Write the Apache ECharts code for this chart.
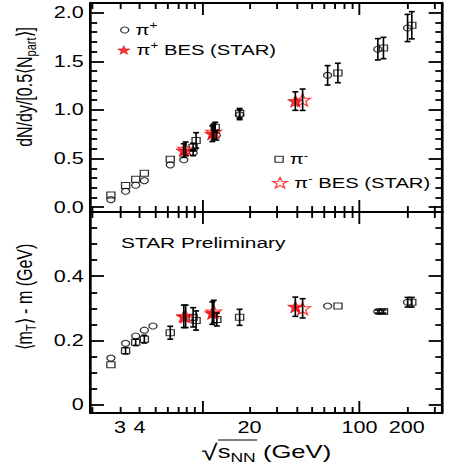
<!DOCTYPE html>
<html>
<head>
<meta charset="utf-8">
<script src="https://cdn.jsdelivr.net/npm/echarts@6/dist/echarts.min.js"></script>
<style>
  html, body { margin: 0; padding: 0; background: #fff; overflow: hidden; }
  /* the figure is laid out narrow and widened horizontally */
  #chart { width: 333px; height: 465px; transform: scaleX(1.3483); transform-origin: 0 0; }
</style>
</head>
<body>
<div id="chart"></div>
<script>
// ---- dN/dy / (0.5 <Npart>) vs sqrt(sNN) [GeV] ----
const dndyPipE   = [2.63, 3.26, 3.78, 4.29, 6.27, 7.64, 8.76, 12.3, 17.3, 62.7, 130.8, 202];
const dndyPipV   = [0.077, 0.163, 0.225, 0.273, 0.435, 0.487, 0.56, 0.74, 0.95, 1.356, 1.624, 1.843];
const dndyPipErr = [0, 0, 0, 0, 0, 0, 0.03, 0.05, 0.05, 0.10, 0.11, 0.14];

const dndyPimE   = [2.63, 3.26, 3.78, 4.29, 6.27, 8.76, 9.15, 12.1, 17.3, 72.9, 142, 215];
const dndyPimV   = [0.126, 0.222, 0.287, 0.349, 0.493, 0.617, 0.686, 0.823, 0.965, 1.38, 1.637, 1.871];
const dndyPimErr = [0, 0, 0, 0, 0, 0.04, 0.08, 0.05, 0.05, 0.10, 0.11, 0.14];

const dndyBesPipE   = [7.64, 11.6, 39.1];
const dndyBesPipV   = [0.582, 0.755, 1.091];
const dndyBesPipErr = [0.07, 0.08, 0.095];

const dndyBesPimE   = [7.85, 11.85, 43.5];
const dndyBesPimV   = [0.60, 0.775, 1.105];
const dndyBesPimErr = [0.07, 0.08, 0.11];

// ---- <mT> - m [GeV] vs sqrt(sNN) [GeV] ----
const mtPipE   = [2.63, 3.26, 3.78, 4.29, 4.87, 62.7, 130.8, 202];
const mtPipV   = [0.145, 0.191, 0.214, 0.232, 0.245, 0.307, 0.290, 0.319];
const mtPipErr = [0, 0, 0, 0, 0, 0, 0.005, 0.015];

const mtPimE   = [2.63, 3.26, 3.78, 4.29, 6.27, 8.76, 9.15, 12.4, 17.3, 73, 142, 215];
const mtPimV   = [0.124, 0.168, 0.194, 0.204, 0.224, 0.272, 0.262, 0.265, 0.272, 0.307, 0.290, 0.319];
const mtPimErr = [0, 0.01, 0.01, 0.012, 0.02, 0.03, 0.03, 0.02, 0.025, 0, 0.005, 0.015];

const mtBesPipE   = [7.64, 11.6, 39.1];
const mtBesPipV   = [0.275, 0.285, 0.305];
const mtBesPipErr = [0.035, 0.035, 0.03];

const mtBesPimE   = [7.85, 11.85, 43.5];
const mtBesPimV   = [0.275, 0.29, 0.30];
const mtBesPimErr = [0.035, 0.035, 0.03];

// ---- axes ----
const xRange = [1.95, 335];
const xLabelValues = [3, 4, 20, 100, 200];
const xMajorTicks = [10, 100];
const xMinorTicks = [2, 3, 4, 5, 6, 7, 8, 9, 20, 30, 40, 50, 60, 70, 80, 90, 200, 300];

const dndyRange = [-0.05, 2.1];
const dndyLabels = [0, 0.5, 1, 1.5, 2];
const dndyMinorTicks = [0.1, 0.2, 0.3, 0.4, 0.6, 0.7, 0.8, 0.9, 1.1, 1.2, 1.3, 1.4, 1.6, 1.7, 1.8, 1.9];

const mtRange = [-0.026, 0.6];
const mtLabels = [0, 0.2, 0.4];
const mtMinorTicks = [0.05, 0.1, 0.15, 0.25, 0.3, 0.35, 0.45, 0.5, 0.55];

const names = { pip: 'π+', pim: 'π-', besPip: 'π+ BES (STAR)', besPim: 'π- BES (STAR)' };

const FONT = '"Liberation Sans", Arial, Helvetica, sans-serif';
const STAR = 'path://M0,-10L2.35,-3.24L9.51,-3.09L3.8,1.24L5.88,8.09L0,4L-5.88,8.09L-3.8,1.24L-9.51,-3.09L-2.35,-3.24Z';
const BLACK = '#000';
const lg = Math.log10;

const lineStyle = { color: BLACK, width: 2 };
const tickStyleX = { color: BLACK, width: 1.4 };
const tickStyleY = { color: BLACK, width: 1.8 };

function xAxesFor(grid, withLabels) {
  const base = {
    gridIndex: grid, type: 'value', min: lg(xRange[0]), max: lg(xRange[1]),
    splitLine: { show: false }, axisLabel: { show: false },
    axisLine: { show: false, onZero: false }, axisTick: { show: false }
  };
  const major = { show: true, inside: true, length: 12, customValues: xMajorTicks.map(lg), lineStyle: tickStyleX };
  const minor = { show: true, inside: true, length: 6, customValues: xMinorTicks.map(lg), lineStyle: tickStyleX };
  return [
    // data axis (logarithmic), not drawn
    { gridIndex: grid, type: 'log', logBase: 10, min: xRange[0], max: xRange[1], show: false,
      axisLine: { onZero: false }, splitLine: { show: false } },
    Object.assign({}, base, {
      position: 'bottom',
      axisLine: { show: true, onZero: false, lineStyle },
      axisTick: major,
      axisLabel: withLabels ? {
        show: true, customValues: xLabelValues.map(lg),
        formatter: v => String(Math.round(Math.pow(10, v))),
        margin: 7, color: BLACK, fontSize: 16, fontFamily: FONT
      } : { show: false },
      name: withLabels ? '{r|√}{t|s}{s|NN}{t| (GeV)}' : '',
      nameLocation: 'middle', nameGap: 27,
      nameTextStyle: {
        color: BLACK, fontFamily: FONT,
        rich: {
          r: { fontSize: 22, fontFamily: FONT, lineHeight: 24, color: BLACK },
          t: { fontSize: 19, fontFamily: FONT, lineHeight: 24, color: BLACK },
          s: { fontSize: 13, fontFamily: FONT, lineHeight: 9, verticalAlign: 'bottom', color: BLACK }
        }
      }
    }),
    Object.assign({}, base, { position: 'bottom', axisTick: minor }),
    Object.assign({}, base, { position: 'top', axisLine: { show: true, onZero: false, lineStyle }, axisTick: major }),
    Object.assign({}, base, { position: 'top', axisTick: minor })
  ];
}

function yAxesFor(grid, range, labels, minors, fmt) {
  const base = {
    gridIndex: grid, type: 'value', min: range[0], max: range[1],
    splitLine: { show: false }, axisLabel: { show: false },
    axisLine: { show: false, onZero: false }, axisTick: { show: false }
  };
  const major = { show: true, inside: true, length: 10, customValues: labels, lineStyle: tickStyleY };
  const minor = { show: true, inside: true, length: 5, customValues: minors, lineStyle: tickStyleY };
  return [
    Object.assign({}, base, {
      position: 'left',
      axisLine: { show: true, onZero: false, lineStyle },
      axisTick: major,
      axisLabel: { show: true, customValues: labels, formatter: fmt, margin: 5, color: BLACK, fontSize: 16, fontFamily: FONT }
    }),
    Object.assign({}, base, { position: 'left', axisTick: minor }),
    Object.assign({}, base, { position: 'right', axisLine: { show: true, onZero: false, lineStyle }, axisTick: major }),
    Object.assign({}, base, { position: 'right', axisTick: minor })
  ];
}

const markerStyles = {
  pip:    { symbol: 'circle', symbolSize: 6, itemStyle: { color: 'rgba(255,255,255,0)', borderColor: BLACK, borderWidth: 1 } },
  pim:    { symbol: 'rect', symbolSize: 6, itemStyle: { color: 'rgba(255,255,255,0)', borderColor: BLACK, borderWidth: 1 } },
  besPip: { symbol: STAR, symbolSize: [11.5, 12.5], itemStyle: { color: '#ff0000', borderColor: '#c00000', borderWidth: 0.6 } },
  besPim: { symbol: STAR, symbolSize: [11.5, 12.5], itemStyle: { color: 'rgba(255,255,255,0)', borderColor: '#ff0000', borderWidth: 1 } }
};

function scatter(key, E, V, xIdx, yIdx, z) {
  return Object.assign({
    type: 'scatter', name: names[key], xAxisIndex: xIdx, yAxisIndex: yIdx, z,
    silent: true, animation: false,
    data: E.map((e, i) => [e, V[i]])
  }, markerStyles[key]);
}

function errorBars(E, V, Err, xIdx, yIdx) {
  return {
    type: 'custom', xAxisIndex: xIdx, yAxisIndex: yIdx, z: 10, silent: true, animation: false,
    data: E.map((e, i) => [e, V[i], Err[i]]).filter(d => d[2] > 0),
    encode: { x: 0, y: 1 },
    renderItem(params, api) {
      const x = api.value(0), y = api.value(1), err = api.value(2);
      const lo = api.coord([x, y - err]);
      const hi = api.coord([x, y + err]);
      const cap = 2.2;
      const st = { stroke: BLACK, lineWidth: 1.2 };
      return {
        type: 'group',
        children: [
          { type: 'line', shape: { x1: lo[0], y1: lo[1], x2: hi[0], y2: hi[1] }, style: st },
          { type: 'line', shape: { x1: lo[0] - cap, y1: lo[1], x2: lo[0] + cap, y2: lo[1] }, style: { stroke: BLACK, lineWidth: 1.6 } },
          { type: 'line', shape: { x1: hi[0] - cap, y1: hi[1], x2: hi[0] + cap, y2: hi[1] }, style: { stroke: BLACK, lineWidth: 1.6 } }
        ]
      };
    }
  };
}

const richLegend = {
  p: { fontSize: 15, fontFamily: FONT, lineHeight: 18, color: BLACK },
  s: { fontSize: 10, fontFamily: FONT, lineHeight: 8, verticalAlign: 'top', color: BLACK }
};
function legendText(name) {
  const sign = name.charAt(1);
  const rest = name.slice(2);
  return '{p|π}{s|' + sign + '}' + (rest ? '{p|' + rest + '}' : '');
}
function legendFor(key, icon, w, h, left, top) {
  const st = markerStyles[key].itemStyle;
  return {
    data: [{ name: names[key], icon, itemStyle: { color: st.color, borderColor: st.borderColor, borderWidth: st.borderWidth } }],
    left, top, padding: 0, itemWidth: w, itemHeight: h, selectedMode: false,
    formatter: legendText,
    textStyle: { color: BLACK, fontFamily: FONT, fontSize: 15, rich: richLegend }
  };
}

const titleRich = {
  t: { fontSize: 16, fontFamily: FONT, lineHeight: 20, color: BLACK },
  s: { fontSize: 11, fontFamily: FONT, lineHeight: 8, verticalAlign: 'bottom', color: BLACK }
};

const option = {
  animation: false,
  backgroundColor: '#fff',
  grid: [
    { left: 67.1, right: 5.1, top: 3, height: 209 },
    { left: 67.1, right: 5.1, top: 212, height: 205 }
  ],
  xAxis: [].concat(xAxesFor(0, false), xAxesFor(1, true)),
  yAxis: [].concat(
    yAxesFor(0, dndyRange, dndyLabels, dndyMinorTicks, v => v.toFixed(1)),
    yAxesFor(1, mtRange, mtLabels, mtMinorTicks, v => (v === 0 ? '0' : v.toFixed(1)))
  ),
  legend: [
    legendFor('pip', 'circle', 6, 6, 89, 21),
    legendFor('besPip', STAR, 9, 10, 87, 41),
    legendFor('pim', 'rect', 6, 6, 203.5, 150.3),
    legendFor('besPim', STAR, 11, 12, 201.7, 173.7)
  ],
  series: [
    scatter('pip', dndyPipE, dndyPipV, 0, 0, 3),
    scatter('pim', dndyPimE, dndyPimV, 0, 0, 3),
    scatter('besPip', dndyBesPipE, dndyBesPipV, 0, 0, 4),
    scatter('besPim', dndyBesPimE, dndyBesPimV, 0, 0, 5),
    errorBars(dndyPipE, dndyPipV, dndyPipErr, 0, 0),
    errorBars(dndyPimE, dndyPimV, dndyPimErr, 0, 0),
    errorBars(dndyBesPipE, dndyBesPipV, dndyBesPipErr, 0, 0),
    errorBars(dndyBesPimE, dndyBesPimV, dndyBesPimErr, 0, 0),

    scatter('pip', mtPipE, mtPipV, 5, 4, 3),
    scatter('pim', mtPimE, mtPimV, 5, 4, 3),
    scatter('besPip', mtBesPipE, mtBesPipV, 5, 4, 4),
    scatter('besPim', mtBesPimE, mtBesPimV, 5, 4, 5),
    errorBars(mtPipE, mtPipV, mtPipErr, 5, 4),
    errorBars(mtPimE, mtPimV, mtPimErr, 5, 4),
    errorBars(mtBesPipE, mtBesPipV, mtBesPipErr, 5, 4),
    errorBars(mtBesPimE, mtBesPimV, mtBesPimErr, 5, 4)
  ],
  graphic: [
    { type: 'text', x: 18.5, y: 87, rotation: Math.PI / 2, silent: true,
      style: { text: '{t|dN/dy/[0.5⟨N}{s|part}{t|⟩]}', rich: titleRich, align: 'center', verticalAlign: 'middle', fill: BLACK } },
    { type: 'text', x: 18.5, y: 297, rotation: Math.PI / 2, silent: true,
      style: { text: '{t|⟨m}{s|T}{t|⟩ - m (GeV)}', rich: titleRich, align: 'center', verticalAlign: 'middle', fill: BLACK } },
    { type: 'text', x: 89.8, y: 243, silent: true,
      style: { text: 'STAR Preliminary', font: '15.5px ' + FONT, fill: BLACK, verticalAlign: 'middle' } },
    // overline of the square root in the energy axis title
    { type: 'line', silent: true, shape: { x1: 161.7, y1: 440, x2: 190.7, y2: 440 }, style: { stroke: BLACK, lineWidth: 1.2 } }
  ]
};

const chart = echarts.init(document.getElementById('chart'), null, { renderer: 'svg' });
chart.setOption(option);
</script>
</body>
</html>
